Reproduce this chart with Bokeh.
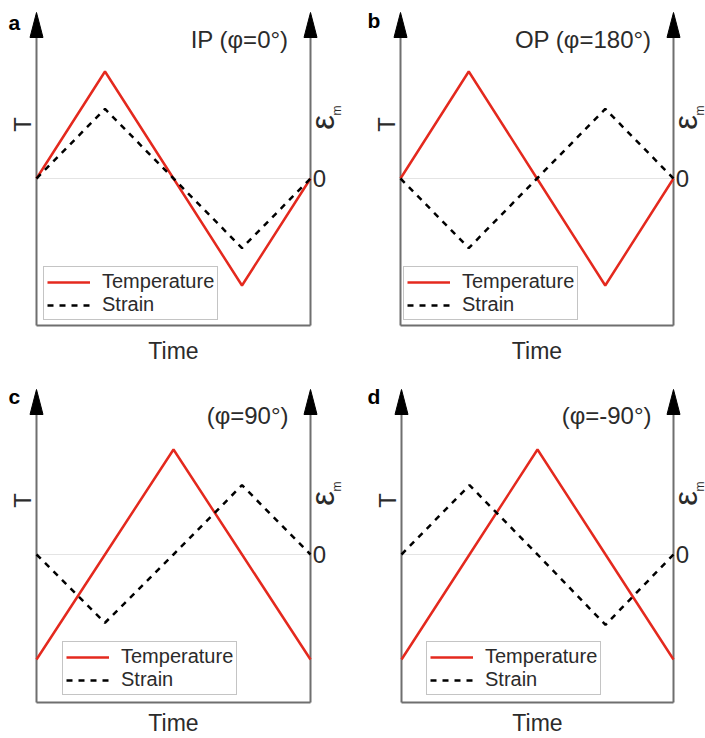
import math
from bokeh.plotting import figure
from bokeh.layouts import column, row
from bokeh.models import Range1d, Label, Legend, LegendItem
from bokeh.embed import file_html
from bokeh.resources import INLINE

# ---------------- data ----------------
time = [0.0, 0.25, 0.5, 0.75, 1.0]
temp_a = [0, 1, 0, -1, 0]
strain_a = [0, 0.65, 0, -0.65, 0]
temp_b = [0, 1, 0, -1, 0]
strain_b = [0, -0.65, 0, 0.65, 0]
temp_c = [-1, 0, 1, 0, -1]
strain_c = [0, -0.65, 0, 0.66, 0]
temp_d = [-1, 0, 1, 0, -1]
strain_d = [0, 0.66, 0, -0.67, 0]

letters = ["a", "b", "c", "d"]
titles = ["IP (φ=0°)", "OP (φ=180°)", "(φ=90°)", "(φ=-90°)"]
series_labels = ["Temperature", "Strain"]
x_label = "Time"
t_label = "T"
eps_label = "ε"
eps_sub = "m"
zero_label = "0"

# ---------------- layout (pixels inside each panel) ----------------
geom = [
    dict(W=352, H=369, L=36, R=310, Z=178, B=325, tip=12, A=107, legx=43, legy=49,
         letx=8, lety=22, timey=350),
    dict(W=353, H=369, L=48, R=321, Z=178, B=325, tip=12, A=107, legx=51, legy=49,
         letx=15, lety=20, timey=350),
    dict(W=352, H=369, L=36, R=310, Z=185, B=333, tip=20, A=105, legx=62, legy=43,
         letx=8, lety=27, timey=353),
    dict(W=353, H=369, L=49, R=321, Z=185, B=333, tip=20, A=105, legx=74, legy=43,
         letx=15, lety=27, timey=353),
]

RED = "#e4291e"
AXIS = "#6f6f6f"
TXT = "#2b2b2b"
FONT = "Liberation Sans"


def make_panel(g, temp, strain, letter, title):
    def X(px):
        return (px - g["L"]) / (g["R"] - g["L"])

    def Y(py):
        return (g["Z"] - py) / g["A"]

    p = figure(width=g["W"], height=g["H"],
               x_range=Range1d(X(0), X(g["W"])), y_range=Range1d(Y(g["H"]), Y(0)),
               x_axis_type=None, y_axis_type=None, toolbar_location=None,
               output_backend="svg", min_border=0, outline_line_color=None,
               background_fill_color="white", border_fill_color="white")

    # zero reference line
    p.line([0, 1], [0, 0], line_color="#e4e4e4", line_width=1)

    # axes: left, right, bottom lines with arrow heads
    base = g["tip"] + 25
    p.segment(x0=[0, 1, 0], y0=[Y(base - 2), Y(base - 2), Y(g["B"])],
              x1=[0, 1, 1], y1=[Y(g["B"]), Y(g["B"]), Y(g["B"])],
              line_color=AXIS, line_width=2)
    hw = 6.5
    p.patches(xs=[[0, X(g["L"] - hw), X(g["L"] + hw)], [1, X(g["R"] - hw), X(g["R"] + hw)]],
              ys=[[Y(g["tip"]), Y(base), Y(base)], [Y(g["tip"]), Y(base), Y(base)]],
              fill_color="black", line_color="black", line_width=1)

    r_t = p.line(time, temp, line_color=RED, line_width=2.5)
    r_s = p.line(time, strain, line_color="black", line_width=2.5, line_dash="6 6")

    leg = Legend(items=[LegendItem(label=series_labels[0], renderers=[r_t]),
                        LegendItem(label=series_labels[1], renderers=[r_s])],
                 location=(g["legx"], g["legy"]), margin=0, padding=3, spacing=0,
                 glyph_width=43, glyph_height=20, label_height=20, label_standoff=12,
                 label_text_font=FONT, label_text_font_size="20px", label_text_color=TXT,
                 border_line_color="#8a8a8a", border_line_width=1.5,
                 background_fill_color="white", background_fill_alpha=1.0)
    p.add_layout(leg)

    # texts
    p.add_layout(Label(x=X(g["letx"]), y=Y(g["lety"]), text=letter, text_font=FONT,
                       text_font_style="bold", text_font_size="21px", text_color="black",
                       text_align="left", text_baseline="alphabetic"))
    p.add_layout(Label(x=X(g["R"] - 22), y=Y(g["Z"] - 139), text=title, text_font=FONT,
                       text_font_size="24px", text_color=TXT,
                       text_align="right", text_baseline="alphabetic"))
    p.add_layout(Label(x=0.5, y=Y(g["timey"]), text=x_label, text_font=FONT,
                       text_font_size="23px", text_color=TXT,
                       text_align="center", text_baseline="middle"))
    p.add_layout(Label(x=X(g["L"] - 14), y=Y(g["Z"] - 54), text=t_label, text_font=FONT,
                       text_font_size="24px", text_color=TXT, angle=math.pi / 2,
                       text_align="center", text_baseline="middle"))
    p.add_layout(Label(x=X(g["R"] + 12), y=Y(g["Z"] - 56), text=eps_label, text_font=FONT,
                       text_font_size="33px", text_color=TXT, angle=math.pi / 2,
                       text_align="center", text_baseline="middle"))
    p.add_layout(Label(x=X(g["R"] + 26), y=Y(g["Z"] - 63), text=eps_sub, text_font=FONT,
                       text_font_size="12px", text_color=TXT, angle=math.pi / 2,
                       text_align="left", text_baseline="middle"))
    p.add_layout(Label(x=X(g["R"] + 9), y=0, text=zero_label, text_font=FONT,
                       text_font_size="24px", text_color=TXT,
                       text_align="center", text_baseline="middle"))
    return p


panels = [
    make_panel(geom[0], temp_a, strain_a, letters[0], titles[0]),
    make_panel(geom[1], temp_b, strain_b, letters[1], titles[1]),
    make_panel(geom[2], temp_c, strain_c, letters[2], titles[2]),
    make_panel(geom[3], temp_d, strain_d, letters[3], titles[3]),
]

layout = column(row(panels[0], panels[1], spacing=0), row(panels[2], panels[3], spacing=0), spacing=0)

with open("out.html", "w") as f:
    f.write(file_html(layout, INLINE))
